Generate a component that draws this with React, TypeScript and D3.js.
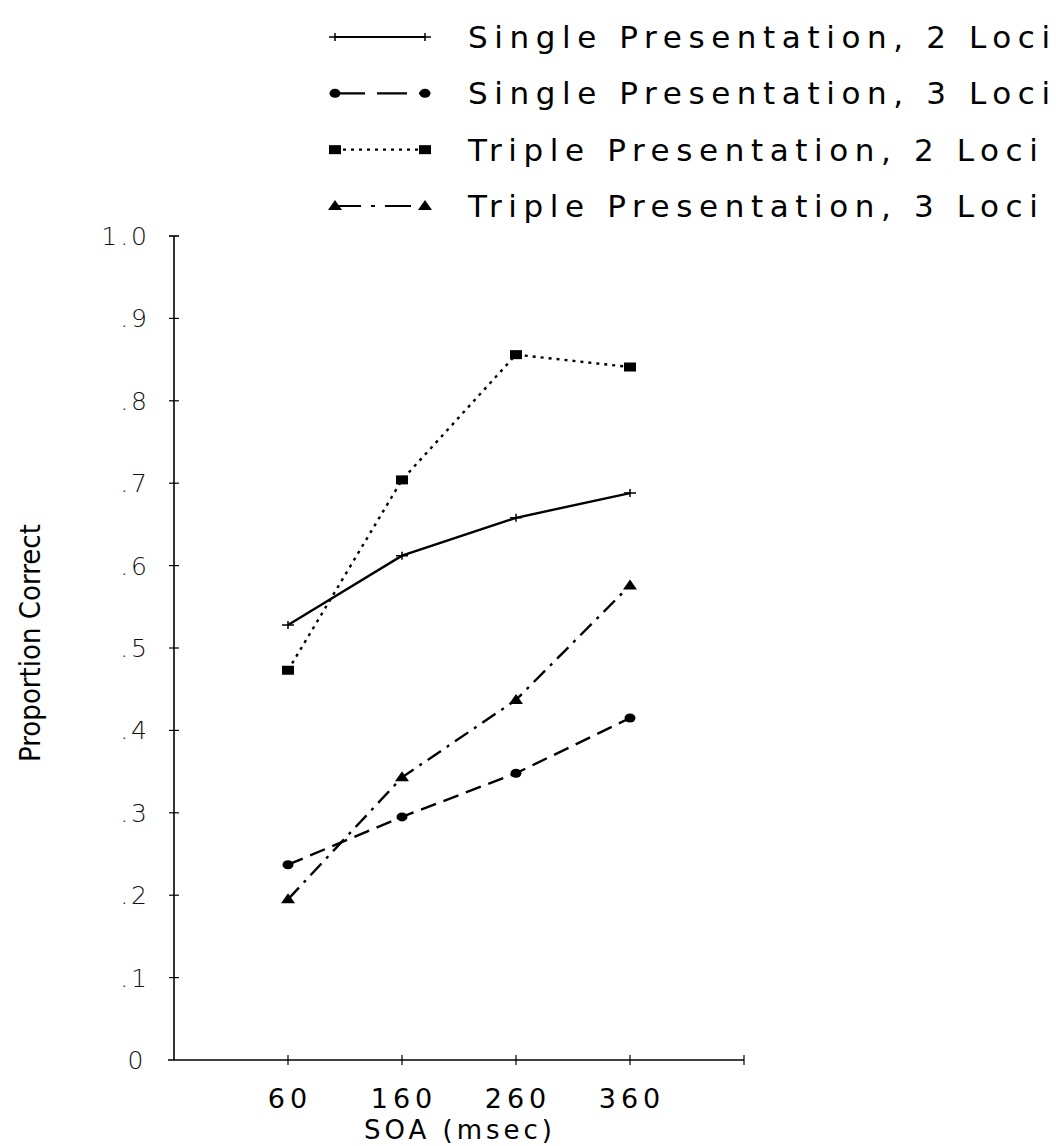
import React, { useEffect, useRef } from 'react';
import * as d3 from 'd3';

// SOA values (msec) and proportion correct per condition
const soa = [60, 160, 260, 360];
const single2 = [0.528, 0.612, 0.658, 0.688];
const single3 = [0.237, 0.295, 0.348, 0.415];
const triple2 = [0.473, 0.704, 0.856, 0.841];
const triple3 = [0.195, 0.343, 0.437, 0.576];

const yTicks = [0, 0.1, 0.2, 0.3, 0.4, 0.5, 0.6, 0.7, 0.8, 0.9, 1.0];
const yTickLabels = ['0', '.1', '.2', '.3', '.4', '.5', '.6', '.7', '.8', '.9', '1.0'];
const legendLabels = [
  'Single Presentation, 2 Loci',
  'Single Presentation, 3 Loci',
  'Triple Presentation, 2 Loci',
  'Triple Presentation, 3 Loci',
];

const font = '"DejaVu Sans", sans-serif';

const App = () => {
  const svgRef = useRef<SVGSVGElement>(null);

  useEffect(() => {
    const svg = d3.select(svgRef.current);
    svg.selectAll('*').remove();

    const x = d3.scaleLinear().domain([-40, 460]).range([174, 744]);
    const y = d3.scaleLinear().domain([0, 1]).range([1060, 236]);

    const series = [
      { values: single2, dash: null, legendDash: null, marker: 'plus' },
      { values: single3, dash: '16,8', legendDash: '30,12', marker: 'circle' },
      { values: triple2, dash: '3,5', legendDash: '3,5', marker: 'square' },
      { values: triple3, dash: '16,7,3,7', legendDash: '26,10,4,10', marker: 'triangle' },
    ];

    const drawMarker = (g: any, kind: string, cx: number, cy: number) => {
      if (kind === 'plus') {
        g.append('path')
          .attr('d', `M${cx - 6},${cy}H${cx + 6}M${cx},${cy - 4}V${cy + 4}`)
          .attr('stroke', '#000').attr('stroke-width', 1.5);
      } else if (kind === 'circle') {
        g.append('ellipse').attr('cx', cx).attr('cy', cy).attr('rx', 5.5).attr('ry', 4.5).attr('fill', '#000');
      } else if (kind === 'square') {
        g.append('rect').attr('x', cx - 6).attr('y', cy - 4.5).attr('width', 12).attr('height', 9).attr('fill', '#000');
      } else {
        g.append('path')
          .attr('d', `M${cx - 7},${cy + 4}L${cx},${cy - 6}L${cx + 7},${cy + 4}Z`)
          .attr('fill', '#000');
      }
    };

    // axes
    const axes = svg.append('g').attr('stroke', '#000').attr('stroke-width', 1.6).attr('fill', 'none');
    axes.append('line').attr('x1', x(-40)).attr('x2', x(-40)).attr('y1', y(1)).attr('y2', y(0));
    axes.append('line').attr('x1', x(-40) - 6).attr('x2', x(460)).attr('y1', y(0)).attr('y2', y(0));
    axes.append('line').attr('x1', x(-40) - 5).attr('x2', x(-40) + 5).attr('y1', y(1)).attr('y2', y(1));
    yTicks.slice(1, -1).forEach((t) => {
      axes.append('line').attr('x1', x(-40) - 5).attr('x2', x(-40) + 5).attr('y1', y(t)).attr('y2', y(t)).attr('stroke-width', 1.2);
    });
    [...soa, 460].forEach((t) => {
      axes.append('line').attr('x1', x(t)).attr('x2', x(t)).attr('y1', y(0) - 5).attr('y2', y(0) + 5).attr('stroke-width', 1.2);
    });

    // y tick labels
    svg.append('g').selectAll('text').data(yTicks).enter().append('text')
      .attr('x', (d) => (d === 0 ? 137 : 150))
      .attr('y', (d) => y(d) + 9)
      .attr('text-anchor', (d) => (d === 0 ? 'middle' : 'end'))
      .attr('font-family', font).attr('font-size', 25).attr('font-weight', 300)
      .attr('letter-spacing', 3)
      .attr('fill', '#111')
      .text((d, i) => yTickLabels[i]);

    // x tick labels
    svg.append('g').selectAll('text').data(soa).enter().append('text')
      .attr('x', (d) => x(d) + 2)
      .attr('y', 1108)
      .attr('text-anchor', 'middle')
      .attr('font-family', font).attr('font-size', 27)
      .attr('letter-spacing', 5)
      .attr('fill', '#000')
      .text((d) => String(d));

    svg.append('text')
      .attr('x', 460).attr('y', 1139)
      .attr('text-anchor', 'middle')
      .attr('font-family', font).attr('font-size', 26)
      .attr('letter-spacing', 4)
      .attr('fill', '#000')
      .text('SOA (msec)');

    svg.append('text')
      .attr('transform', 'translate(40,643) rotate(-90)')
      .attr('text-anchor', 'middle')
      .attr('font-family', '"Liberation Sans Narrow", "DejaVu Sans Condensed", sans-serif')
      .attr('font-size', 29)
      .attr('fill', '#000')
      .text('Proportion Correct');

    // series
    const line = d3.line<number>().x((d, i) => x(soa[i])).y((d) => y(d));
    series.forEach((s) => {
      svg.append('path')
        .attr('d', line(s.values))
        .attr('fill', 'none')
        .attr('stroke', '#000')
        .attr('stroke-width', 2.4)
        .attr('stroke-dasharray', s.dash);
      const g = svg.append('g');
      s.values.forEach((v, i) => drawMarker(g, s.marker, x(soa[i]), y(v)));
    });

    // legend
    const legendY = d3.scalePoint<number>().domain([0, 1, 2, 3]).range([37, 206]);
    series.forEach((s, i) => {
      const ly = legendY(i) as number;
      const g = svg.append('g');
      g.append('line')
        .attr('x1', 335).attr('x2', 425).attr('y1', ly).attr('y2', ly)
        .attr('stroke', '#000').attr('stroke-width', 2.2)
        .attr('stroke-dasharray', s.legendDash);
      drawMarker(g, s.marker, 335, ly);
      drawMarker(g, s.marker, 425, ly);
      svg.append('text')
        .attr('x', 468).attr('y', ly + 11)
        .attr('font-family', font).attr('font-size', 31)
        .attr('letter-spacing', 6.6)
        .attr('fill', '#000')
        .text(legendLabels[i]);
    });
  }, []);

  return (
    <svg
      ref={svgRef}
      width={1062}
      height={1146}
      style={{ position: 'absolute', left: 0, top: 0, background: '#fff' }}
    />
  );
};

export default App;
